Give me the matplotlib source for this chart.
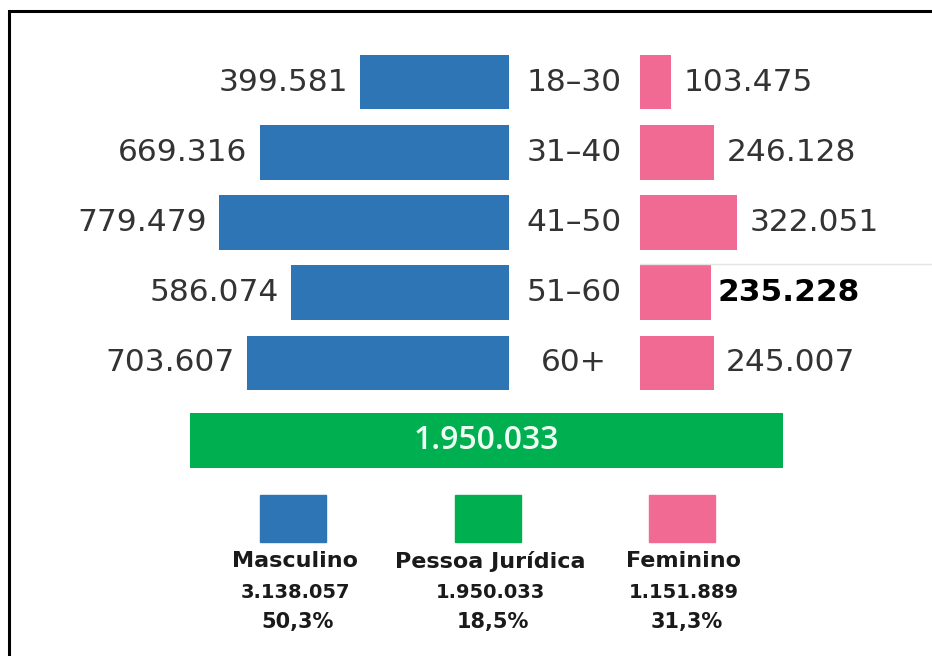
import matplotlib.pyplot as plt
from matplotlib.patches import Rectangle
from matplotlib.transforms import blended_transform_factory

W, H = 932, 656

# data
faixas = ["18–30", "31–40", "41–50", "51–60", "60+"]
masculino = [399581, 669316, 779479, 586074, 703607]
feminino = [103475, 246128, 322051, 235228, 245007]
pessoa_juridica = 1950033

legenda_nomes = ["Masculino", "Pessoa Jurídica", "Feminino"]
legenda_totais = [3138057, 1950033, 1151889]
legenda_pct = ["50,3%", "18,5%", "31,3%"]

AZUL = "#2E75B6"
ROSA = "#F06A94"
VERDE = "#00B050"
TEXTO = "#333333"


def fmt(v):
    return f"{v:,}".replace(",", ".")


def px_axes(fig, x0, y0, x1, y1):
    """axes from pixel box (top-left origin)"""
    return fig.add_axes([x0 / W, 1 - y1 / H, (x1 - x0) / W, (y1 - y0) / H])


fig = plt.figure(figsize=(W / 100, H / 100), dpi=100)

# frame (left and top edges visible, rest runs off the image)
fig.patches.append(Rectangle((8.5 / W, -0.1), 1.2, (H - 10.5) / H + 0.1,
                             transform=fig.transFigure, fill=False,
                             edgecolor="black", linewidth=2.2))

# faint guide line on the right
fig.add_artist(plt.Line2D([640 / W, 1.0], [1 - 264 / H, 1 - 264 / H],
                          transform=fig.transFigure, color="#e4e4e4", linewidth=1))

y = list(range(len(faixas)))

# male side
ax_m = px_axes(fig, 100, 47, 509, 398)
ax_m.barh(y, masculino, height=0.78, color=AZUL)
ax_m.set_xlim(1100000, 0)
ax_m.set_ylim(4.5, -0.5)
ax_m.axis("off")
for i, v in enumerate(masculino):
    ax_m.annotate(fmt(v), (v, i), xytext=(-9, 0), textcoords="offset points",
                  ha="right", va="center", fontsize=22.5, color=TEXTO)

# female side
ax_f = px_axes(fig, 640, 47, 932, 398)
ax_f.barh(y, feminino, height=0.78, color=ROSA)
ax_f.set_xlim(0, 973000)
ax_f.set_ylim(4.5, -0.5)
ax_f.axis("off")
for i, v in enumerate(feminino):
    bold = v == 235228
    ax_f.annotate(fmt(v), (v, i), xytext=(5 if bold else 9, 0),
                  textcoords="offset points", ha="left", va="center",
                  fontsize=22.5, color="black" if bold else TEXTO,
                  fontweight="bold" if bold else "normal")

# age group labels in the middle
tr = blended_transform_factory(fig.transFigure, ax_m.transData)
for i, f in enumerate(faixas):
    fig.text(574 / W, i, f, transform=tr, ha="center", va="center",
             fontsize=22.5, color=TEXTO)

# pessoa juridica bar
ax_pj = px_axes(fig, 190, 413, 783, 468)
ax_pj.barh([0], [pessoa_juridica], height=1.0, color=VERDE)
ax_pj.set_xlim(0, pessoa_juridica)
ax_pj.set_ylim(-0.5, 0.5)
ax_pj.axis("off")
ax_pj.text(pessoa_juridica / 2, 0, fmt(pessoa_juridica), ha="center", va="center",
           fontsize=23, color="#eefff4", family="Open Sans", fontweight="semibold")

# legend
cores = [AZUL, VERDE, ROSA]
centros = [295, 490, 684]
for c, nome, tot, pct, cx in zip(cores, legenda_nomes, legenda_totais, legenda_pct, centros):
    fig.patches.append(Rectangle(((cx - 35) / W, 1 - 542 / H), 66 / W, 47 / H,
                                 transform=fig.transFigure, color=c))
    fig.text(cx / W, 1 - 561 / H, nome, ha="center", va="center", fontsize=16,
             fontweight="bold", color="#1a1a1a")
    fig.text(cx / W, 1 - 593 / H, fmt(tot), ha="center", va="center", fontsize=14,
             fontweight="bold", color="#1a1a1a")
    fig.text((cx + 3) / W, 1 - 622 / H, pct, ha="center", va="center", fontsize=15,
             fontweight="bold", color="#1a1a1a")

fig.savefig("out.png", dpi=100)
